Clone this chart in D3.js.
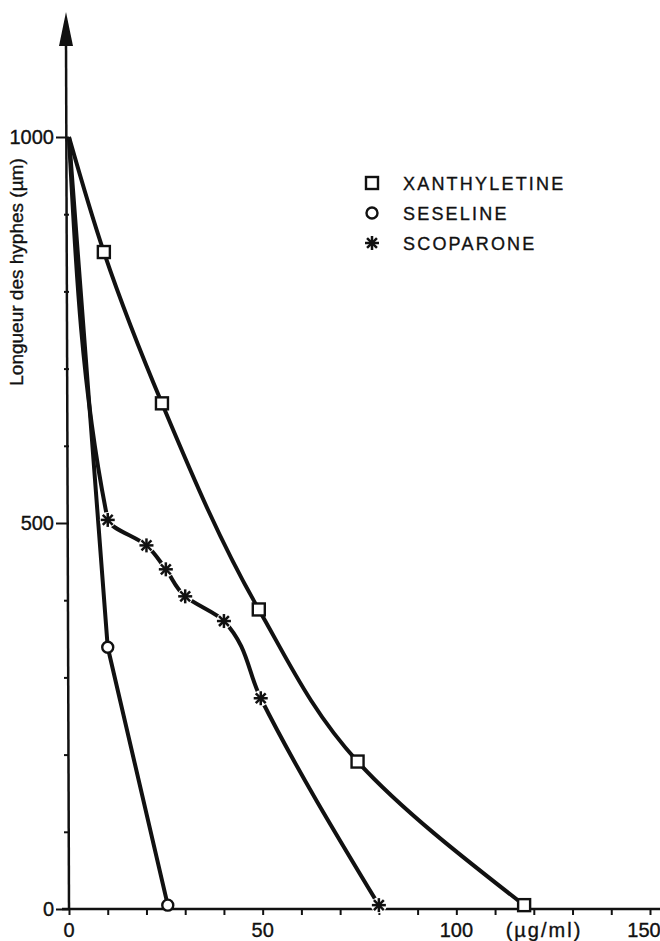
<!DOCTYPE html>
<html>
<head>
<meta charset="utf-8">
<script src="https://cdn.jsdelivr.net/npm/d3@7"></script>
<style>
  body { margin: 0; background: #fff; }
  text { font-family: "Liberation Sans", Arial, sans-serif; fill: #111; stroke: #111; stroke-width: 0.35px; }
</style>
</head>
<body>
<div id="chart"></div>
<script>
var svgWidth = 660;
var svgHeight = 941;

// data (x in ug/ml, y in um)
var xanthyX = [0, 9, 24, 49, 74.5, 117.5];
var xanthyY = [1000, 851, 655, 388, 191, 5];

var seselX = [0, 10, 25.5];
var seselY = [1000, 339, 5];

var scopaX = [0, 10, 20, 25, 30, 40, 49.5, 80];
var scopaY = [1000, 504, 471, 440, 405, 373, 273, 5];

var xTicks = d3.range(0, 151, 10);
var xLabels = [0, 50, 100, 150];
var yTicks = d3.range(0, 1001, 100);
var yLabels = [0, 500, 1000];

var legendNames = ["XANTHYLETINE", "SESELINE", "SCOPARONE"];

var svg = d3.select("#chart")
    .append("svg")
    .attr("width", svgWidth)
    .attr("height", svgHeight);

var xScale = d3.scaleLinear().domain([0, 150]).range([69, 650]);
var yScale = d3.scaleLinear().domain([0, 1000]).range([909, 137]);

// x axis, ticks pointing down
var xAxis = svg.append("g")
    .attr("transform", `translate(0,${yScale(0)})`)
    .call(d3.axisBottom(xScale).tickValues(xTicks).tickSize(6).tickFormat(""));
xAxis.select(".domain").remove();
xAxis.selectAll("line").attr("stroke", "#111").attr("stroke-width", 2);
svg.append("line")
    .attr("x1", 62).attr("x2", 660)
    .attr("y1", yScale(0)).attr("y2", yScale(0))
    .attr("stroke", "#111").attr("stroke-width", 2.5);

svg.selectAll(".xlab")
    .data(xLabels)
    .enter()
    .append("text")
    .attr("class", "xlab")
    .attr("x", d => xScale(d) - (d == 150 ? 6 : 0))
    .attr("y", 937)
    .attr("text-anchor", "middle")
    .style("font-size", "20px")
    .text(d => d);

svg.append("text")
    .attr("x", 544)
    .attr("y", 937)
    .attr("text-anchor", "middle")
    .style("font-size", "20px")
    .style("letter-spacing", "2px")
    .text("(µg/ml)");

// y axis, minor ticks every 100, longer ones at the labels
var yAxis = svg.append("g")
    .attr("transform", `translate(${xScale(0)},0)`)
    .call(d3.axisLeft(yScale).tickValues(yTicks).tickSize(5).tickFormat(""));
yAxis.select(".domain").remove();
yAxis.selectAll(".tick line")
    .attr("stroke", "#111")
    .attr("stroke-width", 2)
    .attr("x2", d => yLabels.indexOf(d) >= 0 ? -13 : -5);

svg.append("line")
    .attr("x1", xScale(0)).attr("x2", xScale(0) - 3)
    .attr("y1", yScale(0)).attr("y2", 40)
    .attr("stroke", "#111").attr("stroke-width", 2.5);
// arrow head
svg.append("path")
    .attr("d", `M${xScale(0) - 3},12 L${xScale(0) - 10},46 L${xScale(0) + 4},46 Z`)
    .attr("fill", "#111");

svg.selectAll(".ylab")
    .data(yLabels)
    .enter()
    .append("text")
    .attr("class", "ylab")
    .attr("x", 54)
    .attr("y", d => yScale(d) + 7)
    .attr("text-anchor", "end")
    .style("font-size", "20px")
    .text(d => d);

svg.append("text")
    .attr("transform", "translate(23,272) rotate(-90)")
    .attr("text-anchor", "middle")
    .style("font-size", "19px")
    .text("Longueur des hyphes (µm)");

// curves
var smooth = d3.line()
    .x(d => xScale(d[0]))
    .y(d => yScale(d[1]))
    .curve(d3.curveMonotoneY);
var straight = d3.line()
    .x(d => xScale(d[0]))
    .y(d => yScale(d[1]));

var xanthy = xanthyX.map((d, i) => [d, xanthyY[i]]);
var sesel = seselX.map((d, i) => [d, seselY[i]]);
var scopa = scopaX.map((d, i) => [d, scopaY[i]]);

[[xanthy, smooth], [sesel, straight], [scopa, smooth]].forEach(function(s) {
    svg.append("path")
        .datum(s[0])
        .attr("d", s[1])
        .attr("fill", "none")
        .attr("stroke", "#111")
        .attr("stroke-width", 4)
        .attr("stroke-linejoin", "round");
});

// marker helpers
function drawSquare(g, x, y) {
    g.append("rect")
        .attr("x", x - 6).attr("y", y - 6)
        .attr("width", 12).attr("height", 12)
        .attr("fill", "#fff").attr("stroke", "#111").attr("stroke-width", 2.4);
}
function drawCircle(g, x, y) {
    g.append("circle")
        .attr("cx", x).attr("cy", y).attr("r", 5.5)
        .attr("fill", "#fff").attr("stroke", "#111").attr("stroke-width", 2.4);
}
function drawStar(g, x, y, halo) {
    if (halo) {
        g.append("circle").attr("cx", x).attr("cy", y).attr("r", 8).attr("fill", "#fff");
    }
    for (var k = 0; k < 4; k++) {
        var a = k * Math.PI / 4;
        g.append("line")
            .attr("x1", x - 7 * Math.cos(a)).attr("y1", y - 7 * Math.sin(a))
            .attr("x2", x + 7 * Math.cos(a)).attr("y2", y + 7 * Math.sin(a))
            .attr("stroke", "#111").attr("stroke-width", 2.5);
    }
}

var marks = svg.append("g");
xanthy.slice(1).forEach(d => drawSquare(marks, xScale(d[0]), yScale(d[1])));
sesel.slice(1).forEach(d => drawCircle(marks, xScale(d[0]), yScale(d[1])));
scopa.slice(1).forEach(d => drawStar(marks, xScale(d[0]), yScale(d[1]), true));

// legend
var legend = svg.append("g");
drawSquare(legend, 372, 183);
drawCircle(legend, 372, 213);
drawStar(legend, 372, 243, false);
legend.selectAll("text")
    .data(legendNames)
    .enter()
    .append("text")
    .attr("x", 403)
    .attr("y", (d, i) => 190 + i * 30)
    .style("font-size", "18px")
    .style("letter-spacing", "2.2px")
    .text(d => d);
</script>
</body>
</html>
